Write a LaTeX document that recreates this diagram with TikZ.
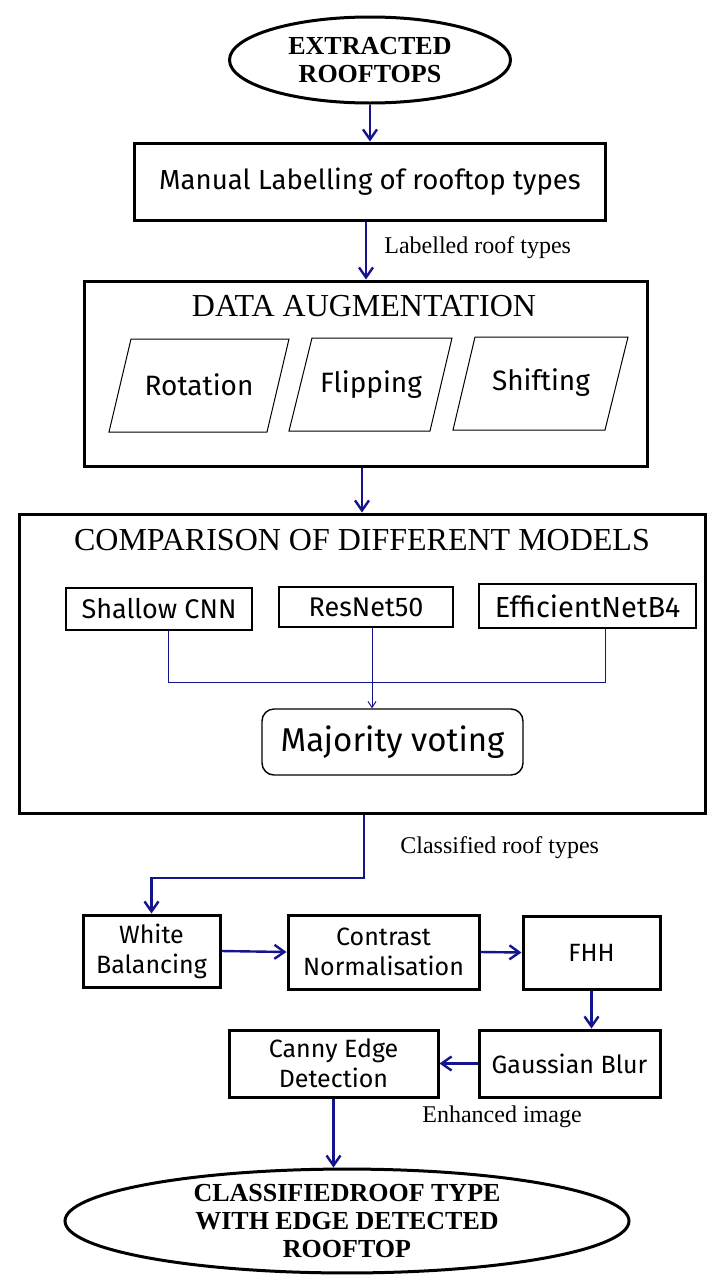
\documentclass[tikz,border=0pt]{standalone}
\usepackage{fontspec}
\setmainfont{Liberation Serif}
\newfontfamily\comic{Fira Sans}
\usetikzlibrary{arrows.meta,shapes.geometric,calc}
\definecolor{arrowblue}{RGB}{20,20,140}
\tikzset{
  thickbox/.style={draw=black, line width=1.5pt, rectangle, inner sep=0pt, align=center, font=\comic\fontsize{12.5}{15}\selectfont},
  thinbox/.style={draw=black, line width=0.7pt, rectangle, inner sep=0pt, align=center, font=\comic\fontsize{13.5}{15}\selectfont},
  oval/.style={draw=black, line width=1.5pt, ellipse, inner sep=0pt, align=center, font=\bfseries\fontsize{13}{14}\selectfont},
  flowarrow/.style={draw=arrowblue, line width=1.2pt, -{Straight Barb[length=5pt,width=7pt,line width=1.2pt]}},
  thinline/.style={draw=arrowblue, line width=0.5pt},
  thinarrow/.style={draw=arrowblue, line width=0.5pt, -{Straight Barb[length=3pt,width=4pt]}},
  para/.style={draw=black, line width=0.5pt},
  paratext/.style={font=\comic\fontsize{14}{16}\selectfont, inner sep=0pt},
  lbl/.style={font=\fontsize{12}{14}\selectfont, inner sep=0pt},
}
\begin{document}
\begin{tikzpicture}[x=0.5pt, y=-0.5pt]
\useasboundingbox[fill=white] (0,0) rectangle (720,1280);

% top ellipse
\node[oval, minimum width=140.5pt, minimum height=43pt] (top) at (370,60) {EXTRACTED\\ROOFTOPS};

% manual labelling
\node[thickbox, minimum width=235.5pt, minimum height=38.5pt, font=\comic\fontsize{13.8}{16}\selectfont] (manual) at (370,181.5) {Manual Labelling of rooftop types};
\draw[flowarrow] (top.south) -- (manual.north);

% data augmentation
\node[thickbox, minimum width=281.5pt, minimum height=92.5pt] (aug) at (365.5,373.5) {};
\node[lbl, font=\fontsize{16}{18}\selectfont] (augtitle) at (364,306) {DATA AUGMENTATION};
\draw[flowarrow] (manual.south -| 366,0) -- (aug.north -| 366,0);
\node[lbl, anchor=west] (lab1) at (384,248) {Labelled roof types};

\draw[para] (131,339) -- (289,339) -- (267,432) -- (109,432) -- cycle;
\draw[para] (312,338) -- (452,338) -- (430,431) -- (289,431) -- cycle;
\draw[para] (475,337) -- (628,337) -- (605,430) -- (453,430) -- cycle;
\node[paratext] (rot) at (199,385) {Rotation};
\node[paratext] (flip) at (371,385) {Flipping};
\node[paratext] (shift) at (541,383) {Shifting};

% comparison
\node[thickbox, minimum width=343pt, minimum height=149.5pt] (comp) at (362,663.5) {};
\node[lbl, font=\fontsize{16}{18}\selectfont] (comptitle) at (362,540) {COMPARISON OF DIFFERENT MODELS};
\draw[flowarrow] (aug.south -| 362,0) -- (comp.north -| 362,0);

\node[thinbox, minimum width=93pt, minimum height=21pt] (shallow) at (159,609) {Shallow CNN};
\node[thinbox, minimum width=87pt, minimum height=20pt] (resnet) at (366,607) {ResNet50};
\node[thinbox, minimum width=108.5pt, minimum height=22pt, font=\comic\fontsize{14.5}{16}\selectfont] (eff) at (587.5,606) {EfficientNetB4};
\node[draw=black, line width=0.7pt, rounded corners=6pt, minimum width=130.5pt, minimum height=33pt, inner sep=0pt, font=\comic\fontsize{16.5}{18}\selectfont] (major) at (392.5,742) {Majority voting};

\coordinate (j1) at (168,682);
\coordinate (j3) at (605,682);
\draw[thinline] (shallow.south -| j1) -- (j1) -- (j3) -- (eff.south -| j3);
\draw[thinarrow] (resnet.south -| 372,0) -- (major.north -| 372,0);

% enhancement chain
\node[thickbox, minimum width=68.5pt, minimum height=36pt] (wb) at (151.5,951) {White\\Balancing};
\node[thickbox, minimum width=95.5pt, minimum height=37pt] (cn) at (383.5,952) {Contrast\\Normalisation};
\node[thickbox, minimum width=68.5pt, minimum height=36.5pt] (fhh) at (591.5,952.5) {FHH};
\node[thickbox, minimum width=90.5pt, minimum height=33.5pt] (gb) at (569.5,1063.5) {Gaussian Blur};
\node[thickbox, minimum width=104.5pt, minimum height=33.5pt] (canny) at (333.5,1063.5) {Canny Edge\\Detection};

\coordinate (bend) at (364,878);
\draw[flowarrow] (comp.south -| bend) -- (bend) -| (wb.north);
\node[lbl, anchor=west] (lab2) at (400,848) {Classified roof types};

\draw[flowarrow] (wb.east) -- (cn.west);
\draw[flowarrow] (cn.east) -- (fhh.west);
\draw[flowarrow] (fhh.south) -- (fhh.south |- gb.north);
\draw[flowarrow] (gb.west) -- (canny.east);
\node[lbl, anchor=west] (lab3) at (422,1117) {Enhanced image};

\node[oval, minimum width=282pt, minimum height=46pt, font=\bfseries\fontsize{13}{14}\selectfont] (bottom) at (347,1221) {CLASSIFIEDROOF TYPE\\WITH EDGE DETECTED\\ROOFTOP};
\draw[flowarrow] (canny.south) -- (canny.south |- bottom.north);
\end{tikzpicture}
\end{document}
